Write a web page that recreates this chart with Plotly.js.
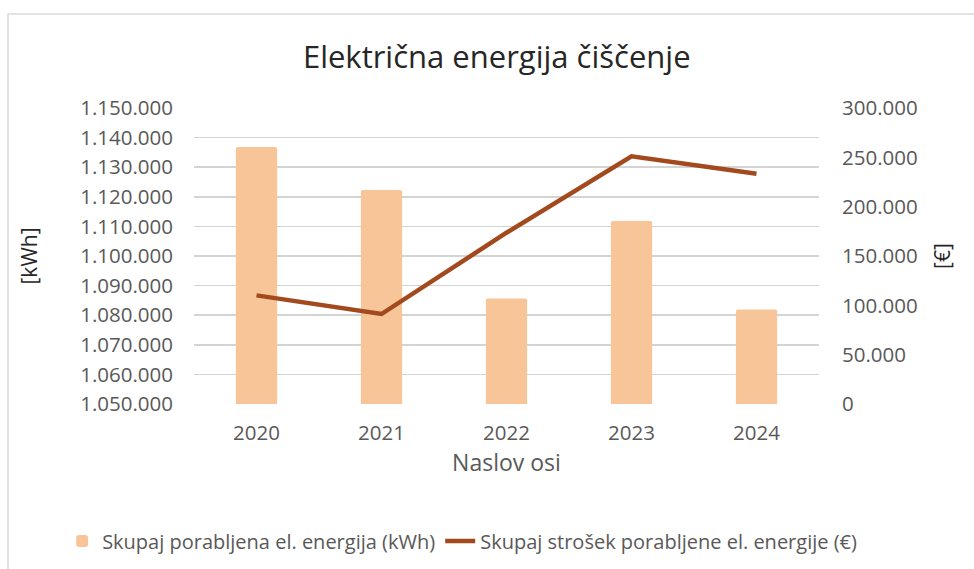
<!DOCTYPE html>
<html>
<head>
<meta charset="utf-8">
<script src="https://cdn.plot.ly/plotly-3.0.1.min.js"></script>
<style>html,body{margin:0;padding:0;background:#fff;}#chart{width:974px;height:569px;}</style>
</head>
<body>
<div id="chart"></div>
<script>
const years = ['2020', '2021', '2022', '2023', '2024'];
const energyKWh = [1136800, 1122300, 1085600, 1111800, 1081900];
const costEUR = [110100, 91200, 173600, 251000, 233400];
const seriesNames = ['Skupaj porabljena el. energija (kWh)', 'Skupaj strošek porabljene el. energije (€)'];
const leftTicks = [1050000, 1060000, 1070000, 1080000, 1090000, 1100000, 1110000, 1120000, 1130000, 1140000, 1150000];
const rightTicks = [0, 50000, 100000, 150000, 200000, 250000, 300000];

function fmt(v) {
  return String(v).replace(/\B(?=(\d{3})+(?!\d))/g, '.');
}

const FONT = 'Open Sans, Noto Sans, Liberation Sans, sans-serif';
const GRAY = '#595959';

const traces = [
  {
    type: 'bar',
    name: seriesNames[0],
    x: years,
    y: energyKWh,
    marker: {color: '#F8C599', cornerradius: 2},
    yaxis: 'y',
    hoverinfo: 'x+y'
  },
  {
    type: 'scatter',
    mode: 'lines',
    name: seriesNames[1],
    x: years,
    y: costEUR,
    line: {color: '#A24A1E', width: 4.5},
    yaxis: 'y2'
  }
];

const layout = {
  width: 974,
  height: 569,
  paper_bgcolor: '#ffffff',
  plot_bgcolor: '#ffffff',
  margin: {l: 194, r: 155, t: 108, b: 165, autoexpand: false},
  font: {family: FONT, color: GRAY, size: 20},
  title: {
    text: 'Električna energija čiščenje',
    font: {family: FONT, size: 31, color: '#262626'},
    xref: 'container', x: 0.51, xanchor: 'center',
    yref: 'container', y: 0.9, yanchor: 'middle'
  },
  bargap: 0.67,
  showlegend: true,
  legend: {
    orientation: 'h',
    x: -0.211, xanchor: 'left',
    y: -0.463, yanchor: 'middle',
    font: {family: FONT, size: 20, color: GRAY},
    traceorder: 'normal',
    itemwidth: 30
  },
  xaxis: {
    type: 'category',
    showgrid: false,
    zeroline: false,
    showline: false,
    ticks: '',
    ticklabelstandoff: 14,
    tickfont: {family: FONT, size: 20.5, color: GRAY},
    title: {text: 'Naslov osi', font: {family: FONT, size: 23, color: GRAY}, standoff: 10}
  },
  yaxis: {
    range: [1050000, 1150000],
    tickvals: leftTicks,
    ticktext: leftTicks.map(fmt),
    showgrid: true,
    gridcolor: '#D4D4D4',
    gridwidth: 1.6,
    zeroline: false,
    showline: false,
    ticks: '',
    ticklabelstandoff: 20,
    tickfont: {family: FONT, size: 20.5, color: GRAY},
    title: {text: '[kWh]', font: {family: FONT, size: 21, color: '#262626'}, standoff: 36}
  },
  yaxis2: {
    overlaying: 'y',
    side: 'right',
    range: [0, 300000],
    tickvals: rightTicks,
    ticktext: rightTicks.map(fmt),
    showgrid: false,
    zeroline: false,
    showline: false,
    ticks: '',
    ticklabelstandoff: 22,
    tickfont: {family: FONT, size: 20.5, color: GRAY},
    title: {text: '[€]', font: {family: FONT, size: 21, color: '#262626'}, standoff: 18}
  },
  shapes: [
    {
      type: 'rect', xref: 'paper', yref: 'paper',
      x0: (8 - 194) / 625, x1: (990 - 194) / 625,
      y0: (404 - 590) / 296, y1: (404 - 14) / 296,
      line: {color: '#D9D9D9', width: 1.5},
      fillcolor: 'rgba(0,0,0,0)',
      layer: 'below'
    }
  ]
};

Plotly.newPlot('chart', traces, layout, {displayModeBar: false, staticPlot: true});
</script>
</body>
</html>
